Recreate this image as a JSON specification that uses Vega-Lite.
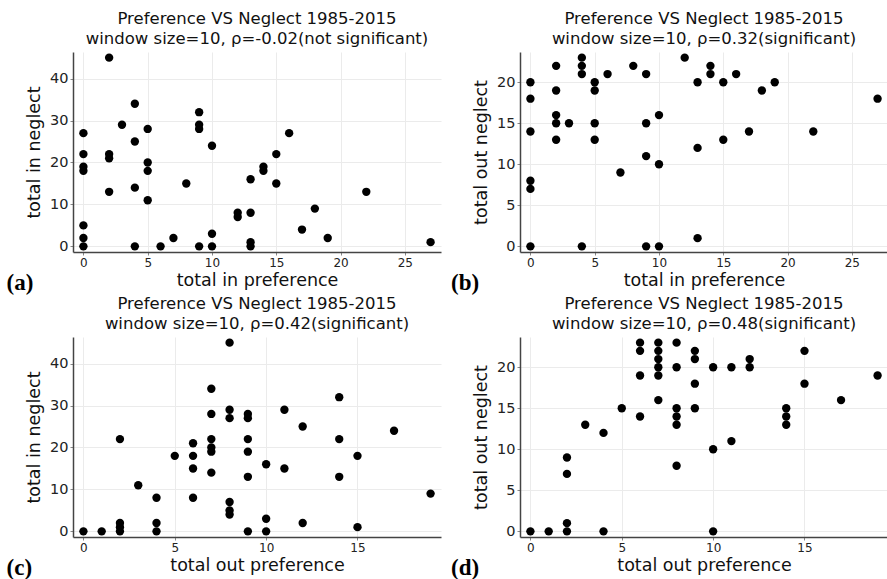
{
  "$schema": "https://vega.github.io/schema/vega-lite/v6.json",
  "background": "white",
  "padding": {"left": 6, "top": 10, "right": 0, "bottom": 0},
  "config": {
    "view": {"stroke": null},
    "font": "DejaVu Sans",
    "axis": {
      "grid": true, "gridColor": "#ebebeb", "gridWidth": 1,
      "domainColor": "#444444", "domainWidth": 1.5,
      "ticks": true, "tickSize": 3, "tickColor": "#888888", "labelPadding": 2,
      "labelColor": "#222222", "labelFont": "DejaVu Sans",
      "titleFontSize": 17.5, "titleFontWeight": "normal", "titleColor": "#111111", "titleFont": "DejaVu Sans"
    },
    "axisX": {"labelFontSize": 12, "titlePadding": 3},
    "axisY": {"labelFontSize": 14.5, "titlePadding": 6},
    "title": {"fontSize": 16.5, "fontWeight": "normal", "font": "DejaVu Sans", "color": "#111111", "offset": 5, "lineHeight": 20}
  },
  "datasets": {
    "a": [
      {"x":0,"y":27},{"x":0,"y":22},{"x":0,"y":19},{"x":0,"y":18},{"x":0,"y":5},{"x":0,"y":2},{"x":0,"y":0},
      {"x":2,"y":45},{"x":2,"y":22},{"x":2,"y":21},{"x":2,"y":13},
      {"x":3,"y":29},
      {"x":4,"y":34},{"x":4,"y":25},{"x":4,"y":14},{"x":4,"y":0},
      {"x":5,"y":28},{"x":5,"y":20},{"x":5,"y":18},{"x":5,"y":11},
      {"x":6,"y":0},{"x":7,"y":2},{"x":8,"y":15},
      {"x":9,"y":32},{"x":9,"y":29},{"x":9,"y":28},{"x":9,"y":0},
      {"x":10,"y":24},{"x":10,"y":3},{"x":10,"y":0},
      {"x":12,"y":8},{"x":12,"y":7},
      {"x":13,"y":16},{"x":13,"y":8},{"x":13,"y":1},{"x":13,"y":0},
      {"x":14,"y":19},{"x":14,"y":18},
      {"x":15,"y":22},{"x":15,"y":15},
      {"x":16,"y":27},{"x":17,"y":4},{"x":18,"y":9},{"x":19,"y":2},{"x":22,"y":13},{"x":27,"y":1}
    ],
    "b": [
      {"x":0,"y":20},{"x":0,"y":18},{"x":0,"y":14},{"x":0,"y":8},{"x":0,"y":7},{"x":0,"y":0},
      {"x":2,"y":22},{"x":2,"y":19},{"x":2,"y":16},{"x":2,"y":15},{"x":2,"y":13},
      {"x":3,"y":15},
      {"x":4,"y":23},{"x":4,"y":22},{"x":4,"y":21},{"x":4,"y":0},
      {"x":5,"y":20},{"x":5,"y":19},{"x":5,"y":15},{"x":5,"y":13},
      {"x":6,"y":21},{"x":7,"y":9},{"x":8,"y":22},
      {"x":9,"y":21},{"x":9,"y":15},{"x":9,"y":11},{"x":9,"y":0},
      {"x":10,"y":16},{"x":10,"y":10},{"x":10,"y":0},
      {"x":12,"y":23},
      {"x":13,"y":20},{"x":13,"y":12},{"x":13,"y":1},
      {"x":14,"y":22},{"x":14,"y":21},
      {"x":15,"y":20},{"x":15,"y":13},
      {"x":16,"y":21},{"x":17,"y":14},{"x":18,"y":19},{"x":19,"y":20},{"x":22,"y":14},{"x":27,"y":18}
    ],
    "c": [
      {"x":0,"y":0},{"x":1,"y":0},
      {"x":2,"y":22},{"x":2,"y":2},{"x":2,"y":1},{"x":2,"y":0},
      {"x":3,"y":11},
      {"x":4,"y":8},{"x":4,"y":2},{"x":4,"y":0},
      {"x":5,"y":18},
      {"x":6,"y":21},{"x":6,"y":18},{"x":6,"y":15},{"x":6,"y":8},
      {"x":7,"y":34},{"x":7,"y":28},{"x":7,"y":22},{"x":7,"y":20},{"x":7,"y":19},{"x":7,"y":14},
      {"x":8,"y":45},{"x":8,"y":29},{"x":8,"y":27},{"x":8,"y":7},{"x":8,"y":5},{"x":8,"y":4},
      {"x":9,"y":28},{"x":9,"y":27},{"x":9,"y":22},{"x":9,"y":19},{"x":9,"y":13},{"x":9,"y":0},
      {"x":10,"y":16},{"x":10,"y":3},{"x":10,"y":0},
      {"x":11,"y":29},{"x":11,"y":15},
      {"x":12,"y":25},{"x":12,"y":2},
      {"x":14,"y":32},{"x":14,"y":22},{"x":14,"y":13},
      {"x":15,"y":18},{"x":15,"y":1},
      {"x":17,"y":24},{"x":19,"y":9}
    ],
    "d": [
      {"x":0,"y":0},{"x":1,"y":0},
      {"x":2,"y":9},{"x":2,"y":7},{"x":2,"y":1},{"x":2,"y":0},
      {"x":3,"y":13},
      {"x":4,"y":12},{"x":4,"y":0},
      {"x":5,"y":15},
      {"x":6,"y":23},{"x":6,"y":22},{"x":6,"y":19},{"x":6,"y":14},
      {"x":7,"y":23},{"x":7,"y":22},{"x":7,"y":21},{"x":7,"y":20},{"x":7,"y":19},{"x":7,"y":16},
      {"x":8,"y":23},{"x":8,"y":20},{"x":8,"y":15},{"x":8,"y":14},{"x":8,"y":13},{"x":8,"y":8},
      {"x":9,"y":22},{"x":9,"y":21},{"x":9,"y":18},{"x":9,"y":15},
      {"x":10,"y":20},{"x":10,"y":10},{"x":10,"y":0},
      {"x":11,"y":20},{"x":11,"y":11},
      {"x":12,"y":21},{"x":12,"y":20},
      {"x":14,"y":15},{"x":14,"y":14},{"x":14,"y":13},
      {"x":15,"y":22},{"x":15,"y":18},
      {"x":17,"y":16},{"x":19,"y":19}
    ]
  },
  "spacing": 0,
  "vconcat": [
    {
      "spacing": 10,
      "hconcat": [
        {
          "title": {"text": "(a)", "orient": "bottom", "anchor": "start", "frame": "bounds", "font": "Liberation Serif", "fontWeight": "bold", "fontSize": 23, "color": "black", "offset": 0, "dy": -17, "dx": -19},
          "vconcat": [{
            "width": 368, "height": 200,
            "title": {"text": ["Preference VS Neglect 1985-2015", "window size=10, ρ=-0.02(not significant)"]},
            "data": {"name": "a"},
            "mark": {"type": "circle", "size": 70, "color": "black", "opacity": 1},
            "encoding": {
              "x": {"field": "x", "type": "quantitative", "scale": {"domain": [-0.81, 27.81], "nice": false, "zero": false}, "axis": {"values": [0,5,10,15,20,25], "title": "total in preference"}},
              "y": {"field": "y", "type": "quantitative", "scale": {"domain": [-1.35, 46.35], "nice": false, "zero": false}, "axis": {"values": [0,10,20,30,40], "title": "total in neglect"}}
            }
          }]
        },
        {
          "title": {"text": "(b)", "orient": "bottom", "anchor": "start", "frame": "bounds", "font": "Liberation Serif", "fontWeight": "bold", "fontSize": 23, "color": "black", "offset": 0, "dy": -17, "dx": -21.5},
          "vconcat": [{
            "width": 368, "height": 200,
            "title": {"text": ["Preference VS Neglect 1985-2015", "window size=10, ρ=0.32(significant)"]},
            "data": {"name": "b"},
            "mark": {"type": "circle", "size": 70, "color": "black", "opacity": 1},
            "encoding": {
              "x": {"field": "x", "type": "quantitative", "scale": {"domain": [-0.81, 27.81], "nice": false, "zero": false}, "axis": {"values": [0,5,10,15,20,25], "title": "total in preference"}},
              "y": {"field": "y", "type": "quantitative", "scale": {"domain": [-0.69, 23.69], "nice": false, "zero": false}, "axis": {"values": [0,5,10,15,20], "title": "total out neglect"}}
            }
          }]
        }
      ]
    },
    {
      "spacing": 10,
      "hconcat": [
        {
          "title": {"text": "(c)", "orient": "bottom", "anchor": "start", "frame": "bounds", "font": "Liberation Serif", "fontWeight": "bold", "fontSize": 23, "color": "black", "offset": 0, "dy": -17, "dx": -19},
          "vconcat": [{
            "width": 368, "height": 200,
            "title": {"text": ["Preference VS Neglect 1985-2015", "window size=10, ρ=0.42(significant)"]},
            "data": {"name": "c"},
            "mark": {"type": "circle", "size": 70, "color": "black", "opacity": 1},
            "encoding": {
              "x": {"field": "x", "type": "quantitative", "scale": {"domain": [-0.57, 19.57], "nice": false, "zero": false}, "axis": {"values": [0,5,10,15], "title": "total out preference"}},
              "y": {"field": "y", "type": "quantitative", "scale": {"domain": [-1.35, 46.35], "nice": false, "zero": false}, "axis": {"values": [0,10,20,30,40], "title": "total in neglect"}}
            }
          }]
        },
        {
          "title": {"text": "(d)", "orient": "bottom", "anchor": "start", "frame": "bounds", "font": "Liberation Serif", "fontWeight": "bold", "fontSize": 23, "color": "black", "offset": 0, "dy": -17, "dx": -21.5},
          "vconcat": [{
            "width": 368, "height": 200,
            "title": {"text": ["Preference VS Neglect 1985-2015", "window size=10, ρ=0.48(significant)"]},
            "data": {"name": "d"},
            "mark": {"type": "circle", "size": 70, "color": "black", "opacity": 1},
            "encoding": {
              "x": {"field": "x", "type": "quantitative", "scale": {"domain": [-0.57, 19.57], "nice": false, "zero": false}, "axis": {"values": [0,5,10,15], "title": "total out preference"}},
              "y": {"field": "y", "type": "quantitative", "scale": {"domain": [-0.69, 23.69], "nice": false, "zero": false}, "axis": {"values": [0,5,10,15,20], "title": "total out neglect"}}
            }
          }]
        }
      ]
    }
  ]
}
